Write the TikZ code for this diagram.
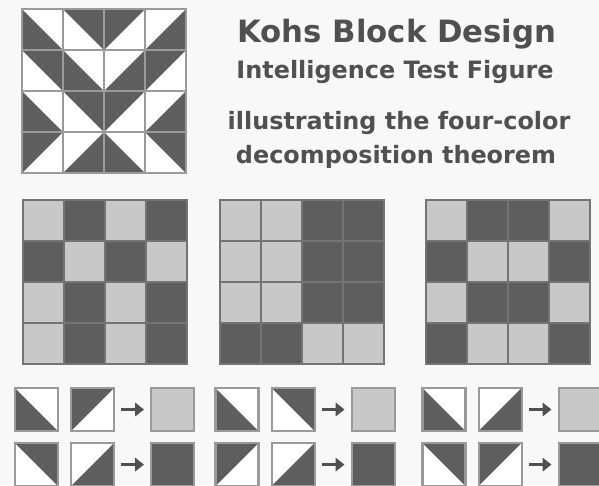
\documentclass[tikz,border=0pt]{standalone}
\usepackage{fontspec}
\setmainfont{DejaVu Sans}
\usepackage{tikz}
\usetikzlibrary{arrows.meta,positioning}
\definecolor{tiledark}{HTML}{5E5E5E}
\definecolor{tileD}{HTML}{5E5E5E}
\definecolor{tileL}{HTML}{C8C8C8}
\definecolor{gridgray}{HTML}{9A9A9A}
\definecolor{gridline}{HTML}{747474}
\definecolor{textgray}{HTML}{505050}
\definecolor{paper}{HTML}{F8F8F8}

\begin{document}
\begin{tikzpicture}[x=0.02cm,y=-0.02cm,>=Latex]
\tikzstyle{cell}=[draw=gridgray,line width=1.1pt,fill=white,minimum size=0.82cm,inner sep=0pt]
\tikzstyle{sq}=[draw=gridline,line width=0.8pt,minimum size=0.82cm,inner sep=0pt]
\tikzstyle{tile}=[draw=gridgray,line width=1.2pt,fill=white,minimum size=0.86cm,inner sep=0pt]
\tikzstyle{darkLL}=[path picture={\fill[tiledark] (path picture bounding box.north west) -- (path picture bounding box.south west) -- (path picture bounding box.south east) -- cycle;}]
\tikzstyle{darkLR}=[path picture={\fill[tiledark] (path picture bounding box.north east) -- (path picture bounding box.south east) -- (path picture bounding box.south west) -- cycle;}]
\tikzstyle{darkUL}=[path picture={\fill[tiledark] (path picture bounding box.south west) -- (path picture bounding box.north west) -- (path picture bounding box.north east) -- cycle;}]
\tikzstyle{darkUR}=[path picture={\fill[tiledark] (path picture bounding box.north west) -- (path picture bounding box.north east) -- (path picture bounding box.south east) -- cycle;}]
\tikzstyle{arr}=[-{Triangle[length=5pt,width=7.5pt]},line width=2pt,draw=textgray,shorten <=3.5pt,shorten >=3.5pt]
\tikzstyle{title}=[text=textgray,font=\fontsize{17.5}{20}\selectfont\bfseries,inner sep=0pt,anchor=base]
\tikzstyle{subtitle}=[text=textgray,font=\fontsize{13.6}{16}\selectfont\bfseries,inner sep=0pt,anchor=base]

\fill[paper] (0,0) rectangle (599,485);
\useasboundingbox (0,0) rectangle (599,485);

% the figure to copy
\foreach \r/\c/\s in {0/0/darkLL,0/1/darkUR,0/2/darkUL,0/3/darkLR,
                      1/0/darkUR,1/1/darkLL,1/2/darkLR,1/3/darkUL,
                      2/0/darkLL,2/1/darkUR,2/2/darkUL,2/3/darkLR,
                      3/0/darkUL,3/1/darkLR,3/2/darkLL,3/3/darkUR}
  \node[cell,\s] (k\r\c) at (42.5+41*\c,29.5+41*\r) {};

\node[title] (ttl) at (397,42) {Kohs Block Design};
\node[subtitle] (sub1) at (395,78) {Intelligence Test Figure};
\node[subtitle] (sub2) at (399,129) {illustrating the four-color};
\node[subtitle] (sub3) at (396,163) {decomposition theorem};

% two-colour maps
\foreach \gx/\pat in {23/{L,D,L,D,D,L,D,L,L,D,L,D,L,D,L,D},
                      220/{L,L,D,D,L,L,D,D,L,L,D,D,D,D,L,L},
                      426/{L,D,D,L,D,L,L,D,L,D,D,L,D,L,L,D}}{
  \foreach \s [count=\i from 0] in \pat {
    \pgfmathtruncatemacro{\r}{div(\i,4)}
    \pgfmathtruncatemacro{\c}{mod(\i,4)}
    \node[sq,fill=tile\s] (g\gx-\i) at (\gx+20.5+41*\c,220.5+41*\r) {};
  }
}

% block pairs -> colour
\foreach \n/\x/\p/\q/\u/\v in {1/36.5/darkLL/darkUL/darkUR/darkLR,
                               2/237/darkLL/darkUR/darkUL/darkLR,
                               3/444/darkLL/darkLR/darkUR/darkUL}{
  \node[tile,\p] (a\n) at (\x,409.5) {};
  \node[tile,\q,right=0.22cm of a\n] (b\n) {};
  \node[tile,fill=tileL,right=0.7cm of b\n] (c\n) {};
  \node[tile,\u,below=0.2cm of a\n] (d\n) {};
  \node[tile,\v,right=0.22cm of d\n] (e\n) {};
  \node[tile,fill=tileD,right=0.7cm of e\n] (f\n) {};
  \draw[arr] (b\n) -- (c\n);
  \draw[arr] (e\n) -- (f\n);
}
\end{tikzpicture}
\end{document}
